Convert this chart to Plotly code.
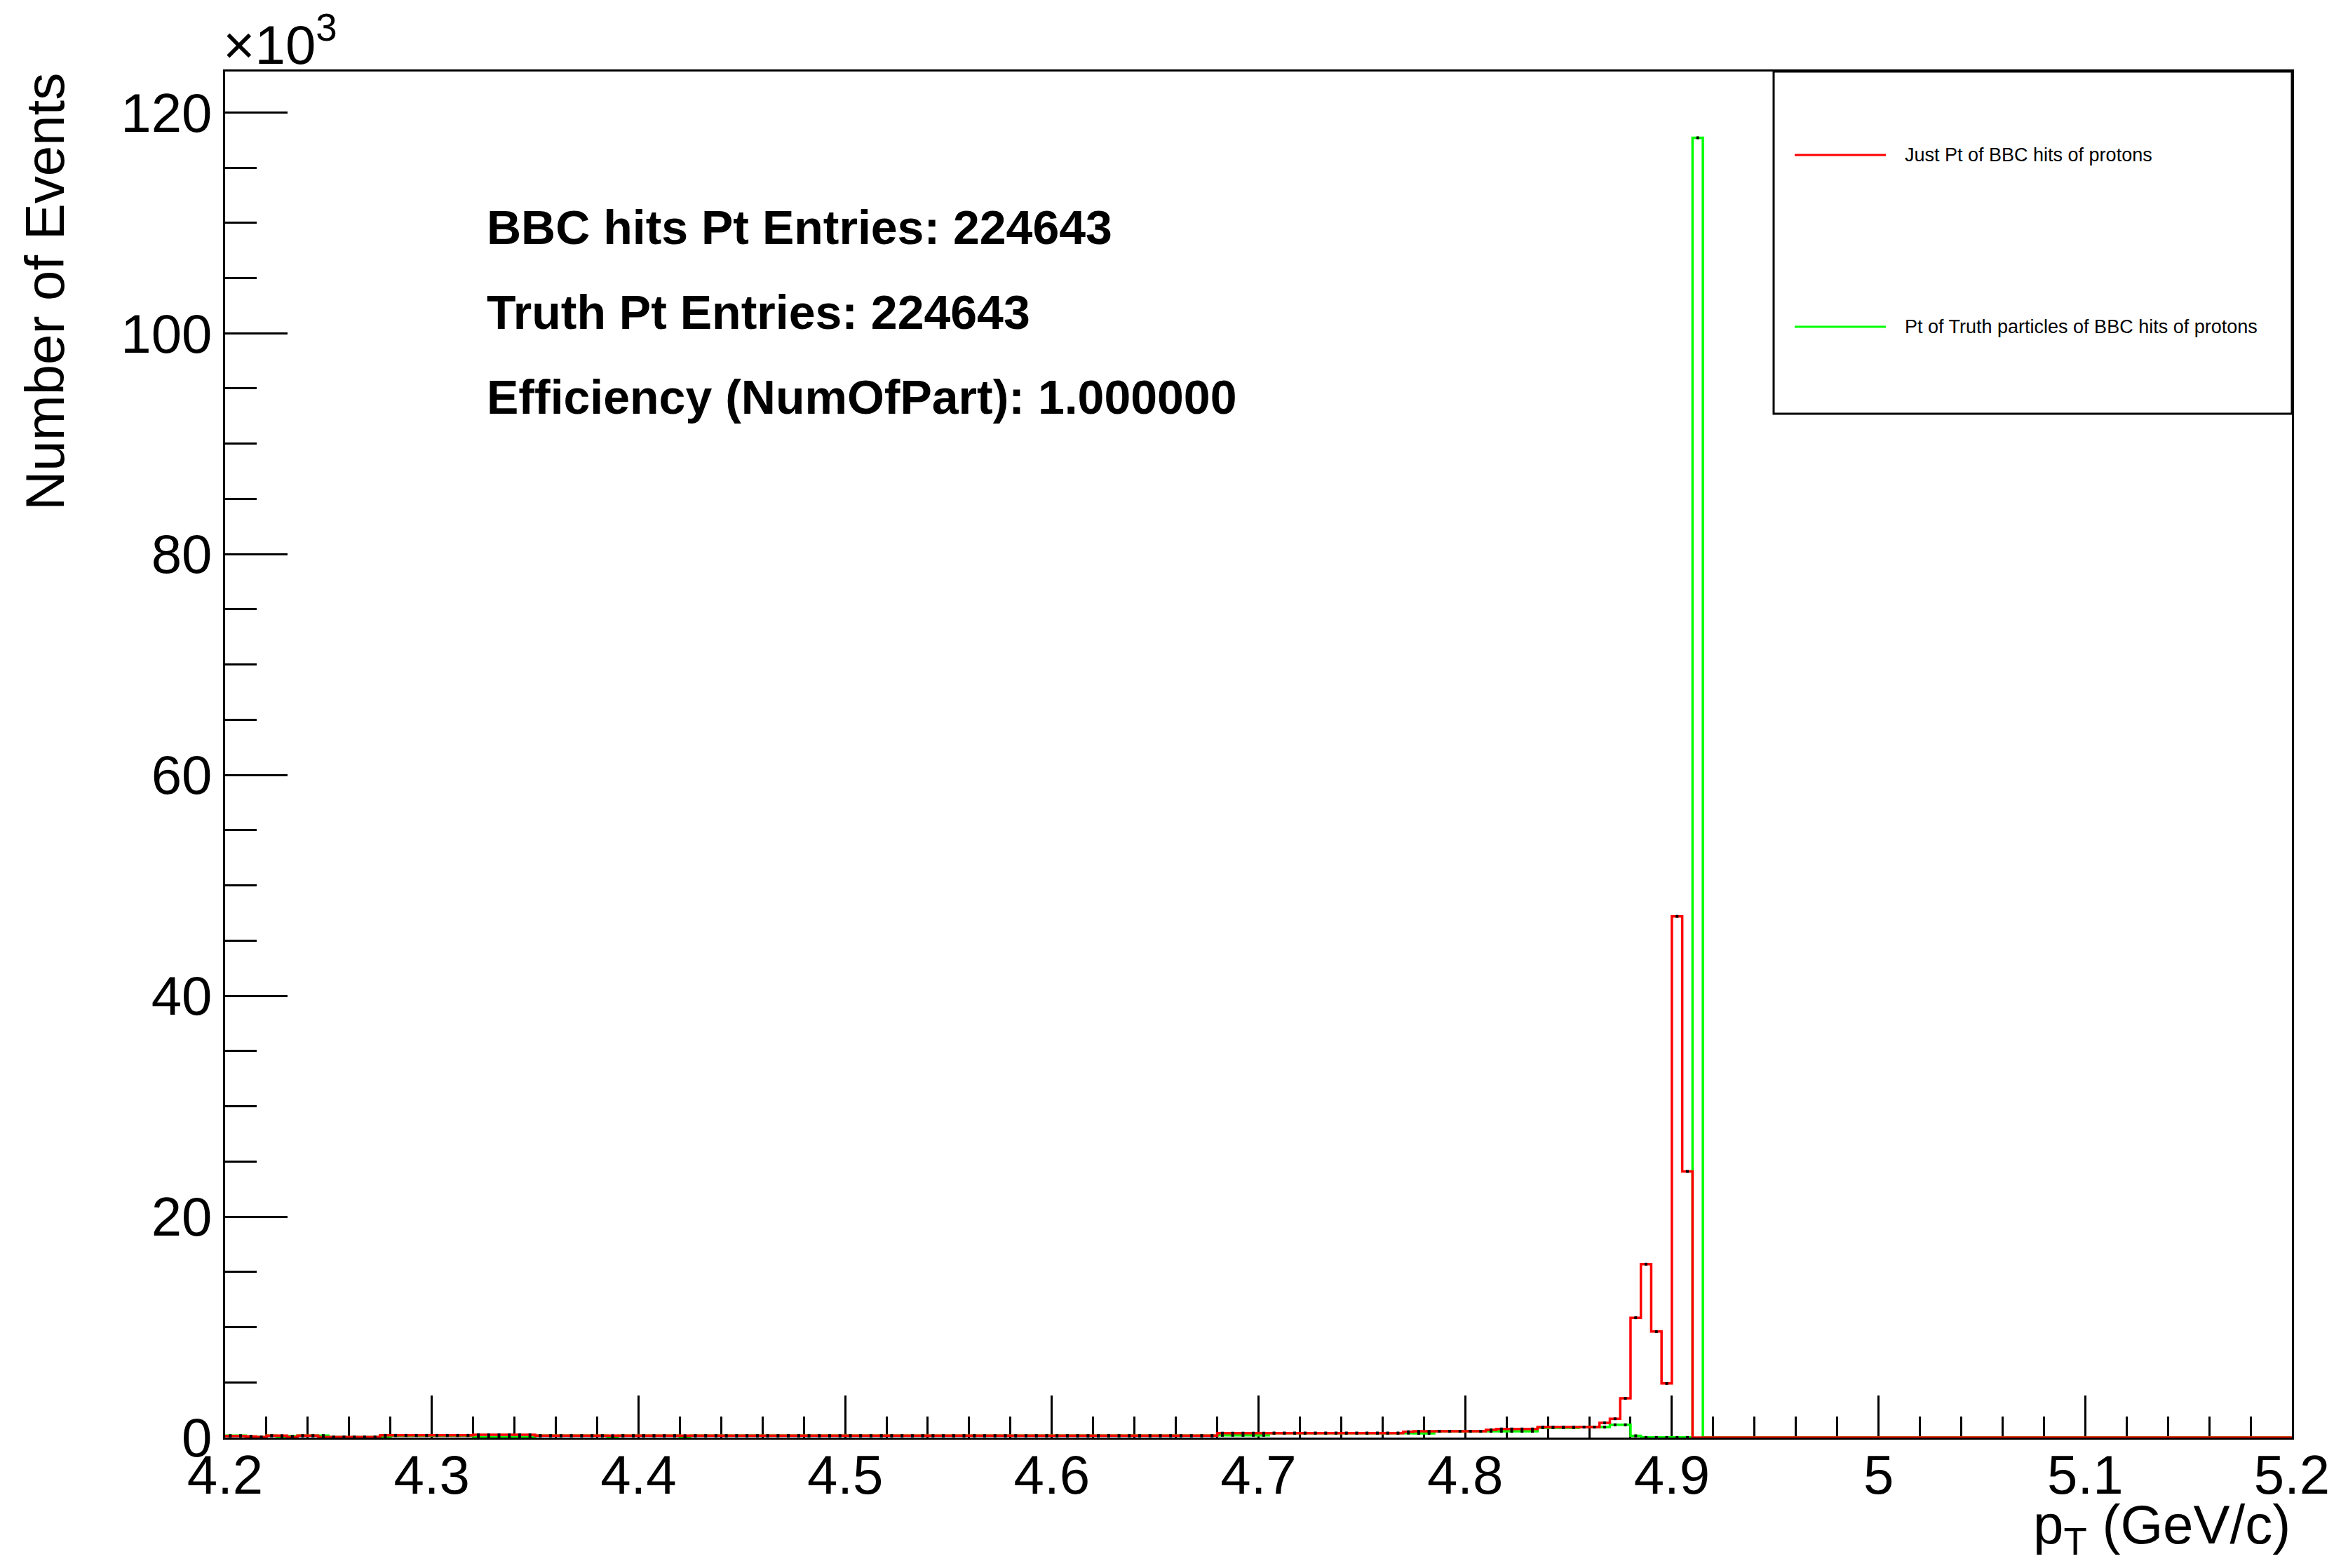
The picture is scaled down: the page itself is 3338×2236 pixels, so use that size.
import plotly.graph_objects as go

# ---------------- data ----------------
bin_lo = 4.2
bin_width = 0.005
n_bins = 200

# "Just Pt of BBC hits of protons" (red), counts per 0.005 GeV/c bin, 4.2 -> 5.2
red_counts = [
    150, 150, 100, 50, 170, 170, 50, 170, 170, 50, 50, 50, 50, 50, 50, 200, 200, 200, 200, 200,
    200, 200, 200, 200, 250, 250, 250, 250, 250, 250, 170, 170, 170, 170, 170, 170, 170, 170, 170, 170,
    170, 170, 170, 170, 170, 170, 170, 170, 170, 170, 170, 170, 170, 170, 170, 170, 170, 170, 170, 170,
    170, 170, 170, 170, 170, 170, 170, 170, 170, 170, 170, 170, 170, 170, 170, 170, 170, 170, 170, 170,
    170, 170, 170, 170, 170, 170, 170, 170, 170, 170, 170, 170, 170, 170, 170, 170, 400, 400, 400, 400,
    400, 400, 400, 400, 400, 400, 400, 400, 400, 400, 400, 400, 400, 400, 530, 570, 570, 570, 570, 570,
    570, 570, 700, 780, 780, 780, 780, 950, 950, 950, 950, 950, 950, 1330, 1700, 3550, 10850, 15700, 9600, 4900,
    47200, 24100, 0, 0, 0, 0, 0, 0, 0, 0, 0, 0, 0, 0, 0, 0, 0, 0, 0, 0,
    0, 0, 0, 0, 0, 0, 0, 0, 0, 0, 0, 0, 0, 0, 0, 0, 0, 0, 0, 0,
    0, 0, 0, 0, 0, 0, 0, 0, 0, 0, 0, 0, 0, 0, 0, 0, 0, 0, 0, 0,
]

# "Pt of Truth particles of BBC hits of protons" (green)
green_counts = [
    170, 170, 100, 50, 170, 20, 120, 170, 170, 180, 40, 40, 40, 40, 40, 20, 180, 180, 180, 180,
    180, 180, 180, 180, 20, 20, 20, 20, 20, 20, 170, 170, 170, 170, 170, 170, 170, 10, 170, 170,
    170, 170, 170, 170, 10, 170, 170, 170, 170, 170, 170, 170, 170, 170, 170, 170, 170, 170, 170, 170,
    170, 170, 170, 170, 170, 170, 170, 170, 170, 170, 170, 170, 170, 170, 170, 170, 170, 170, 170, 170,
    170, 170, 170, 170, 170, 170, 170, 170, 170, 170, 170, 170, 170, 170, 170, 170, 200, 200, 200, 200,
    200, 400, 400, 400, 400, 400, 400, 400, 400, 400, 400, 400, 400, 400, 400, 380, 380, 570, 570, 570,
    570, 570, 570, 570, 570, 570, 570, 890, 890, 890, 890, 950, 950, 950, 1160, 1160, 160, 10, 10, 10,
    10, 10, 117700, 0, 0, 0, 0, 0, 0, 0, 0, 0, 0, 0, 0, 0, 0, 0, 0, 0,
    0, 0, 0, 0, 0, 0, 0, 0, 0, 0, 0, 0, 0, 0, 0, 0, 0, 0, 0, 0,
    0, 0, 0, 0, 0, 0, 0, 0, 0, 0, 0, 0, 0, 0, 0, 0, 0, 0, 0, 0,
]

x_tick_vals = [4.2, 4.3, 4.4, 4.5, 4.6, 4.7, 4.8, 4.9, 5.0, 5.1, 5.2]
x_tick_text = ["4.2", "4.3", "4.4", "4.5", "4.6", "4.7", "4.8", "4.9", "5", "5.1", "5.2"]
y_tick_vals = [0, 20000, 40000, 60000, 80000, 100000, 120000]
y_tick_text = ["0", "20", "40", "60", "80", "100", "120"]

red_name = "Just Pt of BBC hits of protons"
green_name = "Pt of Truth particles of BBC hits of protons"
stats_lines = [
    "BBC hits Pt Entries: 224643",
    "Truth Pt Entries: 224643",
    "Efficiency (NumOfPart): 1.000000",
]

# ---------------- geometry ----------------
# the page body has an 8px margin, so the figure is made 16px smaller
W, H = 3322, 2220
ML, MR, MT, MB = 313, 62, 94, 178
PLOT_L, PLOT_B = 321, 2050          # plot-area left / bottom in page pixels
PW, PH = W - ML - MR, H - MT - MB
FONT = "Liberation Sans, Arial, Helvetica, sans-serif"


def px_x(p):
    return (p - PLOT_L) / PW


def px_y(p):
    return (PLOT_B - p) / PH


edges = [bin_lo + i * bin_width for i in range(n_bins + 1)]


def step_xy(counts):
    return edges, list(counts) + [counts[-1]]


def marker_xy(counts):
    xs, ys = [], []
    for i, c in enumerate(counts):
        if c > 0:
            xs.append(bin_lo + (i + 0.5) * bin_width)
            ys.append(c)
    return xs, ys


fig = go.Figure()
for counts, color in ((green_counts, "#00ff00"), (red_counts, "#ff0000")):
    sx, sy = step_xy(counts)
    fig.add_trace(go.Scatter(x=sx, y=sy, mode="lines",
                             line=dict(color=color, width=3.5, shape="hv"),
                             showlegend=False, hoverinfo="skip"))
    mx, my = marker_xy(counts)
    fig.add_trace(go.Scatter(x=mx, y=my, mode="markers",
                             marker=dict(color="black", size=4, symbol="square"),
                             showlegend=False, hoverinfo="skip"))

axis_common = dict(showline=True, linewidth=3, linecolor="black", mirror=True,
                   showgrid=False, zeroline=False, ticks="inside", tickwidth=3,
                   tickcolor="black", layer="below traces",
                   tickfont=dict(family=FONT, size=78, color="black"))

fig.update_xaxes(range=[4.2, 5.2], tickmode="array", tickvals=x_tick_vals,
                 ticktext=x_tick_text, ticklen=60, ticklabelstandoff=-17,
                 minor=dict(ticks="inside", ticklen=30, tickwidth=3, tickcolor="black",
                            tick0=4.2, dtick=0.02, showgrid=False),
                 **axis_common)
fig.update_yaxes(range=[0, 123700], tickmode="array", tickvals=y_tick_vals,
                 ticktext=y_tick_text, ticklen=89,
                 minor=dict(ticks="inside", ticklen=45, tickwidth=3, tickcolor="black",
                            tick0=0, dtick=5000, showgrid=False),
                 **axis_common)

annotations = []
# axis titles
annotations.append(dict(text="Number of Events", textangle=-90, x=px_x(64), y=1.0,
                        xref="paper", yref="paper", xanchor="center", yanchor="top",
                        showarrow=False, font=dict(family=FONT, size=78, color="black")))
annotations.append(dict(text="p<sub>T</sub> (GeV/c)", x=1.0, y=px_y(2128),
                        xref="paper", yref="paper", xanchor="right", yanchor="top",
                        showarrow=False, font=dict(family=FONT, size=78, color="black")))
annotations.append(dict(text="\u00d710<sup>3</sup>", x=px_x(316), y=px_y(110),
                        xref="paper", yref="paper", xanchor="left", yanchor="bottom",
                        showarrow=False, font=dict(family=FONT, size=78, color="black")))
# stats text
for line, ypx in zip(stats_lines, (324, 445, 566)):
    annotations.append(dict(text="<b>" + line + "</b>", x=px_x(692), y=px_y(ypx),
                            xref="paper", yref="paper", xanchor="left", yanchor="middle",
                            showarrow=False, font=dict(family=FONT, size=68, color="black")))
# legend
shapes = [dict(type="rect", xref="paper", yref="paper", x0=px_x(2529), x1=1.0,
               y0=px_y(590), y1=1.0, line=dict(color="black", width=3),
               fillcolor="white", layer="above")]
for name, color, ypx in ((red_name, "#ff0000", 221), (green_name, "#00ff00", 466)):
    shapes.append(dict(type="line", xref="paper", yref="paper", x0=px_x(2559), x1=px_x(2689),
                       y0=px_y(ypx), y1=px_y(ypx), line=dict(color=color, width=3), layer="above"))
    annotations.append(dict(text=name, x=px_x(2714), y=px_y(ypx), xref="paper", yref="paper",
                            xanchor="left", yanchor="middle", showarrow=False,
                            font=dict(family=FONT, size=27, color="black")))

fig.update_layout(width=W, height=H, margin=dict(l=ML, r=MR, t=MT, b=MB, autoexpand=False),
                  paper_bgcolor="white", plot_bgcolor="white",
                  annotations=annotations, shapes=shapes, showlegend=False)

fig.write_html("out.html")
